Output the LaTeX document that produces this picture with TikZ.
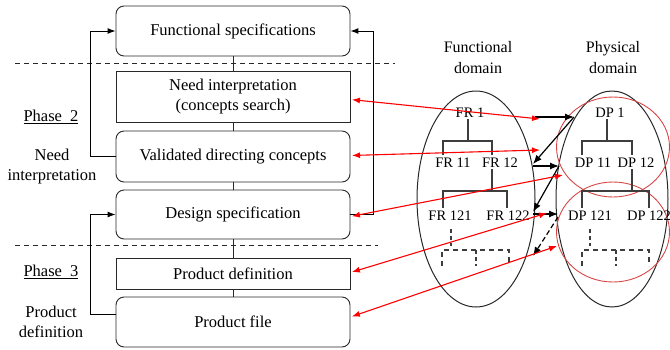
\documentclass[tikz,border=0pt]{standalone}
\usepackage{fontspec}
\setmainfont{Liberation Serif}
\usetikzlibrary{arrows.meta,calc,shapes.geometric}
\definecolor{lc}{RGB}{40,40,40}
\definecolor{circred}{RGB}{215,70,70}
\begin{document}
\begin{tikzpicture}[x=1pt,y=-1pt,
  txt/.style={font=\fontsize{16.5}{19.5}\selectfont, align=center, inner sep=0pt},
  rbox/.style={draw=lc, line width=0.9pt, rounded corners=8pt, minimum width=234pt, txt},
  sbox/.style={draw=lc, line width=0.9pt, minimum width=234pt, txt},
  lbl/.style={font=\fontsize{16.5}{20}\selectfont, align=center, inner sep=0pt},
  tl/.style={font=\fontsize{14.5}{16}\selectfont, inner sep=1pt},
  tree/.style={draw=lc!90, line width=1.4pt},
  fb/.style={draw=black, line width=1pt, -{Latex[length=8pt,width=6pt]}},
  bk/.style={draw=black, line width=1.2pt, -{Latex[length=9pt,width=7pt]}},
  rd/.style={draw=red, line width=1.1pt, {Latex[length=8pt,width=6pt]}-{Latex[length=8pt,width=6pt]}, shorten <=1.5pt},
  phase/.style={draw=lc, line width=1pt, dash pattern=on 5pt off 4pt}
]
\useasboundingbox (0,0) rectangle (670,349);

% left boxes
\node[rbox, minimum height=50pt] (fs) at (233,31) {Functional specifications};
\node[sbox, minimum height=51pt] (ni) at (233,96.5) {Need interpretation\\(concepts search)};
\node[rbox, minimum height=51pt] (vdc) at (233,156.5) {Validated directing concepts};
\node[rbox, minimum height=49pt] (ds) at (233,214.5) {Design specification};
\node[sbox, minimum height=31pt] (pd) at (233,273.5) {Product definition};
\node[rbox, minimum height=50pt] (pf) at (233,322) {Product file};

\draw[lc, line width=0.9pt] (fs.south) -- (ni.north);
\draw[lc, line width=0.9pt] (ni.south) -- (vdc.north);
\draw[lc, line width=0.9pt] (vdc.south) -- (ds.north);
\draw[lc, line width=0.9pt] (ds.south) -- (pd.north);
\draw[lc, line width=0.9pt] (pd.south) -- (pf.north);

% phase separators
\draw[phase] (15,63) -- (395,63);
\draw[phase] (15,245) -- (378,245);

% feedback arrows
\draw[fb] (vdc.west) -- ++(-25,0) |- (fs.west);
\draw[fb] (pf.west) ++(0,-8) -- ++(-25,0) |- (ds.west);
\draw[fb] (ds.east) -- ++(23,0) |- (fs.east);

% left labels
\node[lbl] (ph2) at (51,117) {\underline{Phase\ \ 2}};
\node[lbl] (nil) at (52,167) {Need\\interpretation};
\node[lbl] (ph3) at (51,272) {\underline{Phase\ \ 3}};
\node[lbl] (pdl) at (51,322) {Product\\definition};

% domain titles
\node[lbl, font=\fontsize{16}{21}\selectfont] (fdt) at (478,57.5) {Functional\\domain};
\node[lbl, font=\fontsize{16}{21}\selectfont] (pdt) at (613,57.5) {Physical\\domain};

% domains
\node[draw=lc, line width=1pt, ellipse, inner sep=0pt, minimum width=118pt, minimum height=216pt] (fdom) at (476,199) {};
\node[draw=lc, line width=1pt, ellipse, inner sep=0pt, minimum width=112pt, minimum height=216pt] (pdom) at (612,199) {};
\node[draw=circred, line width=0.9pt, ellipse, inner sep=0pt, minimum width=113pt, minimum height=100pt] (rc1) at (613,147) {};
\node[draw=circred, line width=0.9pt, ellipse, inner sep=0pt, minimum width=113pt, minimum height=100pt] (rc2) at (613,232) {};

% functional tree
\node[tl] (fr1) at (470,113) {FR 1};
\node[tl] (fr11) at (453,163) {FR 11};
\node[tl] (fr12) at (500,163) {FR 12};
\node[tl] (fr121) at (450,216) {FR 121};
\node[tl] (fr122) at (508,216) {FR 122};
\coordinate (fj1) at (468,141);
\coordinate (fj2) at (492,191);
\draw[tree] (fj1 |- fr1.south) -- (fj1);
\draw[tree] (443,155) |- (fj1) -| (492,155);
\draw[tree] (fj2 |- fr12.south) -- (fj2);
\draw[tree] (443,208) |- (fj2) -| (507,208);
\draw[tree, dash pattern=on 4pt off 3pt] (451,229) -- (451,246);
\draw[tree, dash pattern=on 5pt off 4pt] (442,266) |- (509,250) -- (509,266);
\draw[tree, dash pattern=on 4pt off 3pt] (476,250) -- (476,266);

% physical tree
\node[tl] (dp1) at (610,113) {DP 1};
\node[tl] (dp11) at (593,163) {DP 11};
\node[tl] (dp12) at (636,163) {DP 12};
\node[tl] (dp121) at (590,216) {DP 121};
\node[tl] (dp122) at (649,216) {DP 122};
\coordinate (pj1) at (607,141);
\coordinate (pj2) at (632,191);
\draw[tree] (pj1 |- dp1.south) -- (pj1);
\draw[tree] (582,155) |- (pj1) -| (632,155);
\draw[tree] (pj2 |- dp12.south) -- (pj2);
\draw[tree] (582,208) |- (pj2) -| (649,208);
\draw[tree, dash pattern=on 4pt off 3pt] (590,229) -- (590,246);
\draw[tree, dash pattern=on 5pt off 4pt] (582,266) |- (649,250) -- (649,266);
\draw[tree, dash pattern=on 4pt off 3pt] (616,250) -- (616,266);

% zigzag mapping arrows
\coordinate (z1) at (535,117);
\coordinate (z2) at (574,117);
\coordinate (z3) at (533,164);
\coordinate (z3b) at (533,166);
\coordinate (z4) at (559,166);
\coordinate (z5) at (533,212);
\coordinate (z5b) at (533,214);
\coordinate (z6) at (558,214);
\coordinate (z7) at (533,256);
\draw[bk] (z1) -- (z2);
\draw[bk] (z2) -- (z3);
\draw[bk] (z3b) -- (z4);
\draw[bk] (z4) -- (z5);
\draw[bk] (z5b) -- (z6);
\draw[bk, dash pattern=on 5pt off 3pt] ($(z6)+(0,3)$) -- (z7);

% red links
\coordinate (r1) at (540,119);
\coordinate (r2) at (540,150);
\coordinate (r3) at (563,175);
\coordinate (r4) at (547,213);
\coordinate (r5) at (557,246);
\draw[rd] ($(ni.east)+(0,3)$) -- (r1);
\draw[rd] ($(vdc.east)+(0,-1)$) -- (r2);
\draw[rd] ($(ds.east)+(0,2)$) -- (r3);
\draw[rd] ($(pd.east)+(0,-1)$) -- (r4);
\draw[rd] ($(pf.east)+(0,-5)$) -- (r5);
\end{tikzpicture}
\end{document}
